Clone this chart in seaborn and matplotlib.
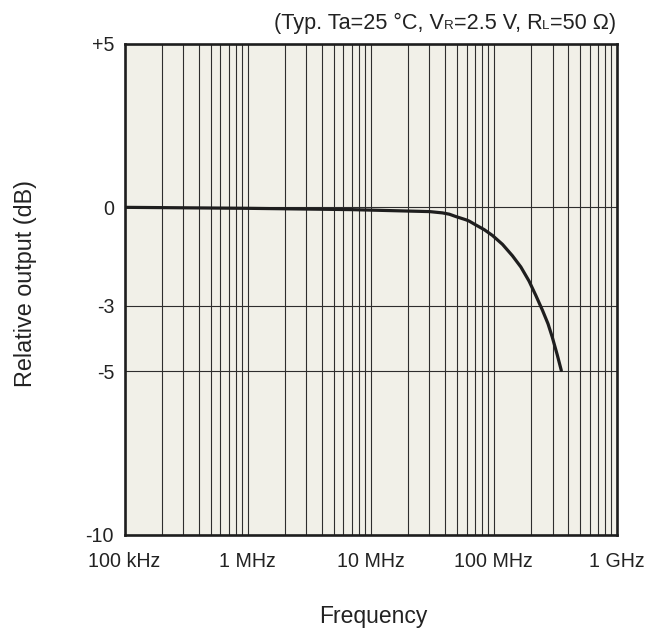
import matplotlib
matplotlib.use("Agg")
import matplotlib.pyplot as plt
import seaborn as sns
import pandas as pd
import numpy as np
from matplotlib.ticker import FixedLocator, LogLocator, NullFormatter

# ---- data ----
freq_hz = [1e5, 1e6, 7e6, 3.0e7, 3.83e7, 4.35e7, 4.9e7, 5.93e7, 6.3e7, 7.15e7,
           8.34e7, 9.75e7, 1.175e8, 1.416e8, 1.656e8, 1.93e8, 2.186e8, 2.48e8,
           2.75e8, 2.98e8, 3.27e8, 3.53e8]
rel_db = [0.0, -0.03, -0.07, -0.13, -0.17, -0.21, -0.28, -0.38, -0.42, -0.54,
          -0.68, -0.86, -1.13, -1.48, -1.82, -2.25, -2.68, -3.14,
          -3.55, -3.96, -4.50, -4.98]

xtick_vals = [1e5, 1e6, 1e7, 1e8, 1e9]
xtick_labels = ["100 kHz", "1 MHz", "10 MHz", "100 MHz", "1 GHz"]
ytick_vals = [5, 0, -3, -5, -10]
ytick_labels = ["+5", "0", "-3", "-5", "-10"]

title_parts = ["(Typ. Ta=25 °C, V", "R", "=2.5 V, R", "L", "=50 Ω)"]
title_small = [False, True, False, True, False]

df = pd.DataFrame({"Frequency": freq_hz, "Relative output (dB)": rel_db})

sns.set_style("white")
FONT = "Liberation Sans"
plt.rcParams["font.family"] = [FONT, "DejaVu Sans"]

W, H = 659, 630
fig = plt.figure(figsize=(W / 100, H / 100), dpi=100)
ax = fig.add_axes([124.5 / W, 1 - 535 / H, (617 - 124.5) / W, (535 - 43.5) / H])
ax.set_facecolor("#f1f0e8")
ax.set_xscale("log")

sns.lineplot(data=df, x="Frequency", y="Relative output (dB)", ax=ax,
             color="#1e1e1e", linewidth=2.3, zorder=5)

ax.set_xlim(1e5, 1e9)
ax.set_ylim(-10, 5)

ax.xaxis.set_major_locator(FixedLocator(xtick_vals))
ax.set_xticklabels(xtick_labels)
ax.xaxis.set_minor_locator(LogLocator(base=10, subs=np.arange(2, 10)))
ax.xaxis.set_minor_formatter(NullFormatter())
ax.set_yticks(ytick_vals)
ax.set_yticklabels(ytick_labels)

ax.grid(True, which="both", axis="x", color="#2e2e2e", linewidth=0.8)
ax.grid(True, which="major", axis="y", color="#2e2e2e", linewidth=0.8)
ax.set_xlabel("")
ax.set_ylabel("")

renderer = fig.canvas.get_renderer()


def width_px(s, size):
    t = fig.text(0, 0, s, fontsize=size)
    w = t.get_window_extent(renderer).width
    t.remove()
    return w


def fit(s, target):
    return 10 * target / width_px(s, 10)


tick_size = fit("+5", 22.3)
ax.tick_params(axis="y", which="both", length=0, labelsize=tick_size, colors="#222222", pad=7.5)
ax.tick_params(axis="x", which="both", length=0, labelsize=tick_size, colors="#222222", pad=12.5)

for s in ax.spines.values():
    s.set_visible(True)
    s.set_color("#1e1e1e")
    s.set_linewidth(1.9)

# axis labels
fsize = fit("Frequency", 109)
fig.text(373.5 / W, 1 - 622.5 / H, "Frequency", ha="center", va="baseline",
         fontsize=fsize, color="#222222")
ysize = fit("Relative output (dB)", 207)
fig.text(26 / W, 1 - 283.5 / H, "Relative output (dB)", ha="center", va="center",
         rotation=90, fontsize=ysize, color="#222222")

# title with small-cap subscripts, right-aligned
base = 10
ratio = 0.62
ws = [width_px(p, base * (ratio if sm else 1)) for p, sm in zip(title_parts, title_small)]
scale = 342 / sum(ws)
tsize = base * scale
x = 616 - 342
for p, sm, w in zip(title_parts, title_small, ws):
    fig.text(x / W, 1 - 29 / H, p, ha="left", va="baseline",
             fontsize=tsize * (ratio if sm else 1), color="#222222")
    x += w * scale

fig.savefig("out.png", dpi=100, facecolor="white")
